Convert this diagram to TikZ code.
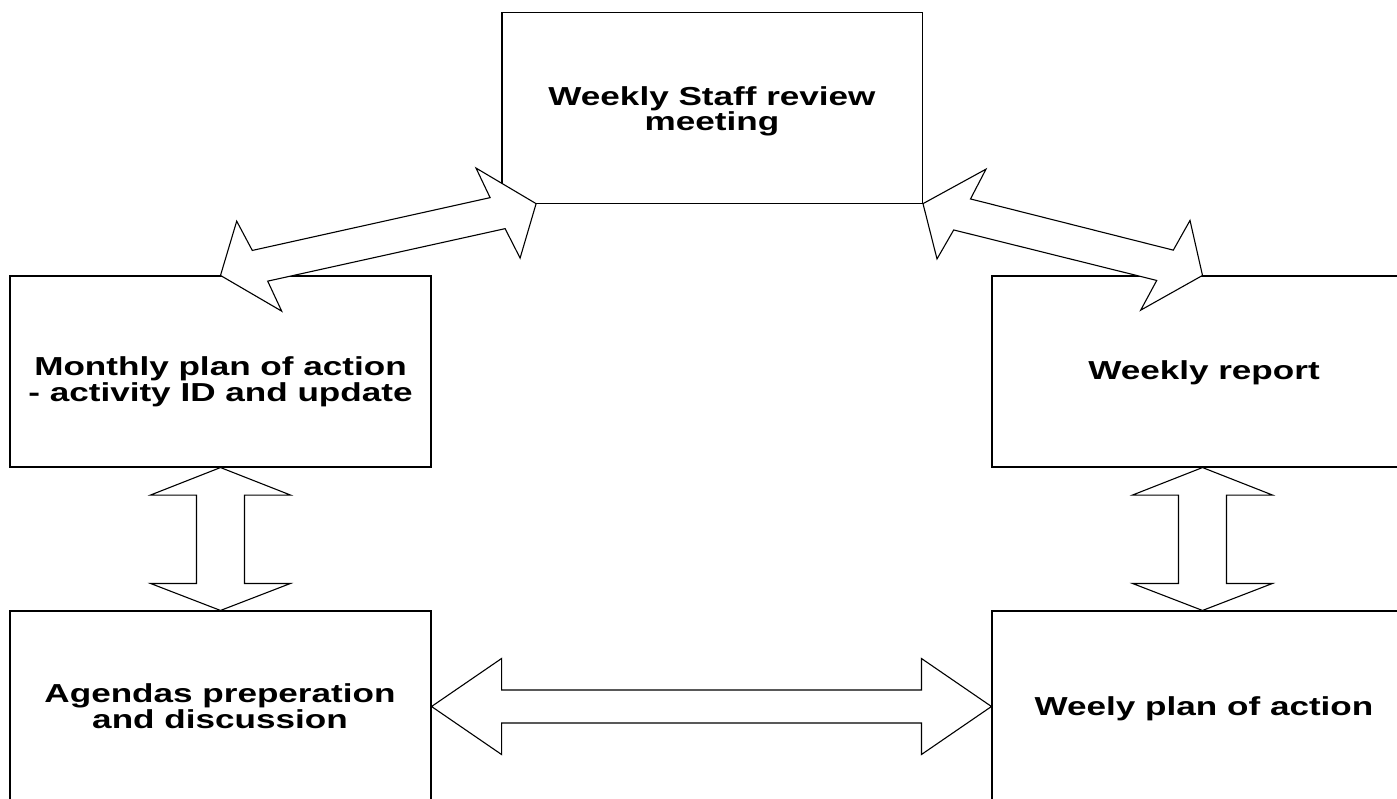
\documentclass[tikz,border=0pt]{standalone}
\usepackage{fontspec}
\setmainfont{Liberation Sans}[FakeStretch=1.35]
\usetikzlibrary{calc}
\begin{document}
\begin{tikzpicture}[x=1pt,y=-1pt,
  box/.style={draw, line width=1.1pt, rectangle, inner sep=0pt, minimum width=421pt, minimum height=191pt},
  lbl/.style={font=\fontsize{26}{25.5}\selectfont\bfseries, align=center, inner sep=0pt},
  barrow/.style={draw, fill=white, line width=1.1pt, line join=miter}]
\useasboundingbox (0,0) rectangle (1397,799);
\fill[white] (0,0) rectangle (1397,799);
\clip (0,0) rectangle (1397,799);
% boxes
\node[box, minimum width=420.5pt] (top) at (712.2,107.6) {};
\node[box] (mon) at (220.5,371.5) {};
\node[box] (rep) at (1202.5,371.5) {};
\node[box] (agd) at (220.5,706.5) {};
\node[box] (wpa) at (1202.5,706.5) {};
% labels (anchor base = baseline of the last line)
\node[lbl, anchor=base] (topt) at (712,131) {Weekly Staff review\\meeting};
\node[lbl, anchor=base] (mont) at (220.5,401) {Monthly plan of action\\- activity ID and update};
\node[lbl, anchor=base] (rept) at (1204,379.5) {Weekly report};
\node[lbl, anchor=base] (agdt) at (220,728.3) {Agendas preperation\\and discussion};
\node[lbl, anchor=base] (wpat) at (1204,715) {Weely plan of action};
% anchor points on the top box
\coordinate (t1) at ($(top.south west)+(34.7,0)$);
\coordinate (t2) at (top.south east);
% diagonal double arrows
\draw[barrow] (mon.north) -- ($(mon.north)+(16.2,-54.3)$) -- ($(mon.north)+(31.8,-25)$)
  -- ($(t1)+(-46,-6)$) -- ($(t1)+(-60.1,-35.6)$) -- (t1)
  -- ($(t1)+(-16,54.4)$) -- ($(t1)+(-31,25)$)
  -- ($(mon.north)+(47.2,5.7)$) -- ($(mon.north)+(61.2,35.7)$) -- cycle;
\draw[barrow] (t2) -- ($(t2)+(63,-34.5)$) -- ($(t2)+(47.5,-4.7)$)
  -- ($(rep.north)+(-29.2,-25.3)$) -- ($(rep.north)+(-12.5,-55)$) -- (rep.north)
  -- ($(rep.north)+(-61.8,34.7)$) -- ($(rep.north)+(-45.8,5)$)
  -- ($(t2)+(30.7,26.3)$) -- ($(t2)+(14,55.3)$) -- cycle;
% vertical double arrows
\draw[barrow] (mon.south) -- ++(70,27.5) -- ++(-46,0) -- ($(agd.north)+(24,-27)$) -- ++(46,0)
  -- (agd.north) -- ++(-70,-27) -- ++(46,0) -- ($(mon.south)+(-24,27.5)$) -- ++(-46,0) -- cycle;
\draw[barrow] (rep.south) -- ++(70,27.5) -- ++(-46,0) -- ($(wpa.north)+(24,-27)$) -- ++(46,0)
  -- (wpa.north) -- ++(-70,-27) -- ++(46,0) -- ($(rep.south)+(-24,27.5)$) -- ++(-46,0) -- cycle;
% horizontal double arrow
\draw[barrow] (agd.east) -- ++(70,-48) -- ++(0,31.5) -- ($(wpa.west)+(-70,-16.5)$) -- ++(0,-31.5)
  -- (wpa.west) -- ++(-70,48) -- ++(0,-31.5) -- ($(agd.east)+(70,16.5)$) -- ++(0,31.5) -- cycle;
\end{tikzpicture}
\end{document}
